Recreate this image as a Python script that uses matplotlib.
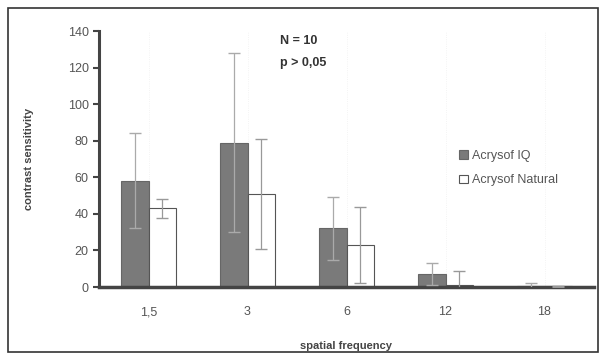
import numpy as np
import matplotlib
matplotlib.use("Agg")
import matplotlib.pyplot as plt
from matplotlib.patches import Rectangle

categories = ["1,5", "3", "6", "12", "18"]
iq_values = [58, 79, 32, 7, 0.5]
iq_err = [26, 49, 17, 6, 1.5]
natural_values = [43, 51, 23, 1, 0.3]
natural_err = [5, 30, 21, 8, 0.5]

plt.rcParams['font.family'] = ['Liberation Sans', 'DejaVu Sans']

fig = plt.figure(figsize=(6.01, 3.54), dpi=100)
fig.patches.append(Rectangle((8 / 601, 2 / 354), 590 / 601, 344 / 354,
                             transform=fig.transFigure, fill=False,
                             edgecolor="#333333", lw=1.2))
ax = fig.add_axes([99 / 601, 1 - 287 / 354, 495 / 601, 256 / 354])

x = np.arange(len(categories))
w = 0.28
ax.bar(x - w / 2, iq_values, w, color="#7a7a7a", edgecolor="#666666", lw=0.8,
       label="Acrysof IQ", zorder=2)
ax.bar(x + w / 2, natural_values, w, color="white", edgecolor="#555555", lw=0.8,
       label="Acrysof Natural", zorder=2)
ax.errorbar(x - w / 2, iq_values, yerr=iq_err, fmt="none", ecolor="#aaaaaa",
            elinewidth=0.9, capsize=4, capthick=1.0, zorder=3)
ax.errorbar(x + w / 2, natural_values, yerr=natural_err, fmt="none", ecolor="#999999",
            elinewidth=0.9, capsize=4, capthick=1.0, zorder=3)

ax.set_xlim(-0.5, len(categories) - 0.5)
ax.set_ylim(0, 140)
ax.set_yticks(range(0, 141, 20))
ax.set_xticks(x)
ax.set_xticklabels(categories)
ax.tick_params(axis="y", direction="out", length=4, width=1.5, color="#444444",
               labelsize=9, labelcolor="#555555")
ax.tick_params(axis="x", length=0, labelsize=9, labelcolor="#555555", pad=14)
for s in ("top", "right"):
    ax.spines[s].set_visible(False)
ax.spines["left"].set_linewidth(2.2)
ax.spines["left"].set_color("#444444")
ax.spines["bottom"].set_linewidth(2.5)
ax.spines["bottom"].set_color("#444444")
ax.xaxis.grid(True, color="#f0f0f0", lw=0.6, ls=":")

ax.set_ylabel("contrast sensitivity", fontsize=8, fontweight="bold", color="#444444",
              labelpad=24)
ax.set_xlabel("spatial frequency", fontsize=8, fontweight="bold", color="#444444",
              labelpad=16)

ax.text(0.365, 0.96, "N = 10", transform=ax.transAxes, fontsize=9, fontweight="bold",
        color="#333333", va="center")
ax.text(0.365, 0.875, "p > 0,05", transform=ax.transAxes, fontsize=9, fontweight="bold",
        color="#333333", va="center")

ax.legend(loc="upper left", bbox_to_anchor=(0.705, 0.58), frameon=False, fontsize=9,
          handlelength=0.7, handleheight=0.7, handletextpad=0.3, labelspacing=1.0,
          labelcolor="#555555")

fig.savefig("out.png", dpi=100)
